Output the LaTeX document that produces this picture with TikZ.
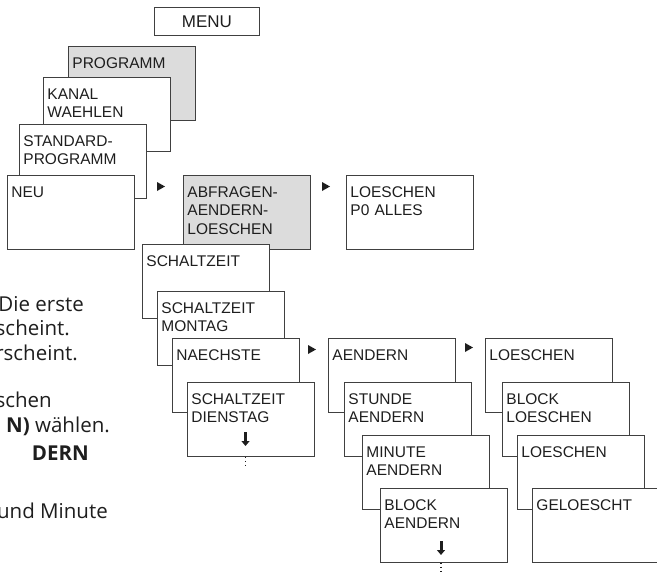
\documentclass[tikz,border=0pt]{standalone}
\usepackage{fontspec}
\setmainfont{Liberation Sans}
\newfontfamily\fliesstext{Open Sans}
\usetikzlibrary{arrows.meta}

\definecolor{rahmen}{HTML}{404040}
\definecolor{grau}{HTML}{DCDCDC}
\definecolor{schrift}{HTML}{1E1E1E}

\tikzset{
  screen/.style={draw=rahmen, fill=white, line width=0.9pt, anchor=north west,
    inner xsep=4pt, inner ysep=0pt, text width=119pt, text height=22pt, text depth=52pt,
    align=left, text=schrift, font=\fontsize{15.5}{18.5}\selectfont},
  aktiv/.style={screen, fill=grau},
  weiter/.style={fill=schrift},
  runter/.style={line width=3pt, draw=schrift, -{Triangle[length=5pt,width=8pt]}},
  punkte/.style={draw=schrift, line width=1.4pt, dash pattern=on 1.4pt off 2.6pt},
  notiz/.style={anchor=base east, inner sep=0pt, text=schrift}
}
\newcommand{\notizschrift}{\fliesstext\fontsize{20.5}{24}\selectfont}

\begin{document}
\begin{tikzpicture}[x=1pt,y=-1pt]
	\useasboundingbox (0,0) rectangle (657,573);
	\clip (0,0) rectangle (657,573);

	% Menuebaum
	\node[draw=rahmen, line width=0.9pt, anchor=north west, minimum width=105pt, minimum height=28pt,
	  text=schrift, font=\fontsize{17}{18.5}\selectfont] (menu) at (154,7) {MENU};
	\node[aktiv] (programm) at (68,46) {PROGRAMM};
	\node[screen] (kanal) at (43,77) {KANAL\\WAEHLEN};
	\node[screen] (standard) at (19,124) {STANDARD-\\PROGRAMM};
	\node[screen] (neu) at (7,175) {NEU};
	\node[aktiv] (abfragen) at (183,175) {ABFRAGEN-\\AENDERN-\\LOESCHEN};
	\node[screen] (alles) at (346,175) {LOESCHEN\\P0 ALLES};

	\node[screen] (schaltzeit) at (142,244) {SCHALTZEIT};
	\node[screen] (montag) at (157,291) {SCHALTZEIT\\MONTAG};
	\node[screen] (naechste) at (172,338) {NAECHSTE};
	\node[screen] (dienstag) at (187,382) {SCHALTZEIT\\DIENSTAG};

	\node[screen] (aendern) at (328,338) {AENDERN};
	\node[screen] (stunde) at (344,382) {STUNDE\\AENDERN};
	\node[screen] (minute) at (362,435) {MINUTE\\AENDERN};
	\node[screen] (block) at (380,488) {BLOCK\\AENDERN};

	\node[screen] (loeschen) at (485,338) {LOESCHEN};
	\node[screen] (blockloeschen) at (502,382) {BLOCK\\LOESCHEN};
	\node[screen] (loeschen2) at (517,435) {LOESCHEN};
	\node[screen] (geloescht) at (532,488) {GELOESCHT};

	% Pfeile
	\fill[weiter] (157,182) -- (157,191) -- (165,186.5) -- cycle;
	\fill[weiter] (322,182) -- (322,191) -- (330,186.5) -- cycle;
	\fill[weiter] (308,345) -- (308,354) -- (316,349.5) -- cycle;
	\fill[weiter] (465,343) -- (465,352) -- (473,347.5) -- cycle;

	\draw[runter] (245.5,432) -- (245.5,446);
	\draw[punkte] (dienstag.south -| 245.5,0) -- ++(0,11);
	\draw[runter] (441,541) -- (441,555);
	\draw[punkte] (block.south -| 441,0) -- ++(0,11);

	% angeschnittener Text links
	\node[notiz] (z1) at (84,311) {\notizschrift Die erste};
	\node[notiz] (z2) at (70,335) {\notizschrift scheint.};
	\node[notiz] (z3) at (78,360) {\notizschrift rscheint.};
	\node[notiz] (z4) at (52,407) {\notizschrift schen};
	\node[notiz] (z5) at (110,432) {\notizschrift\textbf{N)} wählen.};
	\node[notiz] (z6) at (89,460) {\notizschrift\textbf{DERN}};
	\node[notiz] (z7) at (108,518) {\notizschrift und Minute};
\end{tikzpicture}
\end{document}
